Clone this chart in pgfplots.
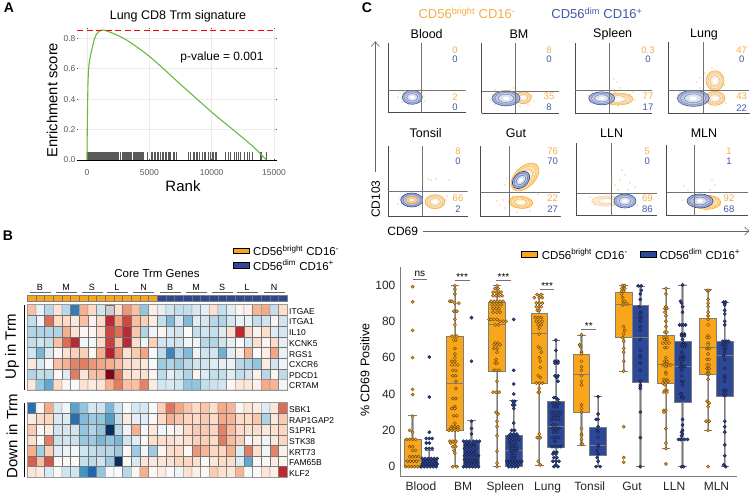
\documentclass[border=0pt]{standalone}
\usepackage{fontspec}
\setmainfont{Liberation Sans}
\usepackage{pgfplots}
\pgfplotsset{compat=1.18}
\usepgfplotslibrary{statistics}

\definecolor{orgbox}{RGB}{250,166,26}
\definecolor{blubox}{RGB}{46,72,152}
\definecolor{orgtxt}{RGB}{245,172,70}
\definecolor{orgpale}{RGB}{250,208,155}
\definecolor{blutxt}{RGB}{62,88,168}
\definecolor{gsea}{RGB}{105,185,65}
\definecolor{boxedge}{RGB}{125,125,125}

% page coordinates: 1pt = 1 reference pixel, y goes down from the top
\newcommand\T[4]{\node[inner sep=0pt,font=\fontsize{#3}{#3}\selectfont] at (#1 pt,-#2 pt) {#4};}
\newcommand\TL[4]{\node[inner sep=0pt,anchor=west,font=\fontsize{#3}{#3}\selectfont] at (#1 pt,-#2 pt) {#4};}
\newcommand\TR[4]{\node[inner sep=0pt,rotate=90,font=\fontsize{#3}{#3}\selectfont] at (#1 pt,-#2 pt) {#4};}
\newcommand\bright{CD56\textsuperscript{bright} CD16\textsuperscript{-}}
\newcommand\dimm{CD56\textsuperscript{dim} CD16\textsuperscript{+}}

% heat map block, scale -5..5
\pgfplotsset{heat/.style={hide axis,scale only axis,anchor=south west,width=260pt,
  xmin=-0.5,xmax=29.5,y dir=reverse,enlargelimits=false,clip=false,
  point meta min=-5,point meta max=5,
  colormap={rdbu}{rgb255=(5,48,97) rgb255=(33,102,172) rgb255=(67,147,195) rgb255=(146,197,222)
    rgb255=(209,229,240) rgb255=(250,250,250) rgb255=(253,219,199) rgb255=(244,165,130)
    rgb255=(214,96,77) rgb255=(190,40,50) rgb255=(125,5,30)}}}
\newcommand\heatplot[1]{\addplot[matrix plot*,mesh/cols=30,point meta=explicit,draw=black!55,line width=.3pt]
  table[header=false,row sep=\\,x expr={\coordindex-30*floor((\coordindex+0.5)/30)},y expr={floor((\coordindex+0.5)/30)},meta index=0] {#1};}

% flow panel: left right top bottom vgate hgate content
\newcommand\flow[7]{%
  \pgfmathsetmacro\fw{#2-#1}\pgfmathsetmacro\fh{#4-#3}
  \begin{axis}[scale only axis,anchor=south west,at={(#1 pt,-#4 pt)},width=\fw pt,height=\fh pt,
    xmin=#1,xmax=#2,ymin=-#4,ymax=-#3,axis x line=bottom,axis y line=left,
    axis line style={-,black!70,line width=.5pt},xticklabel=\empty,yticklabel=\empty,
    xtick distance=7,ytick distance=7,major tick length=1pt,tick style={black!60,line width=.3pt}]
  #7
  \addplot[black!55,line width=.9pt] coordinates {(#5,-#4)(#5,-#3)};
  \addplot[black!55,line width=.9pt] coordinates {(#1,-#6)(#2,-#6)};
  \end{axis}}
% contour blob: colour cx cy rx ry angle
\newcommand\blob[6]{%
  \draw[#1,fill=#1!45,line width=.6pt,rotate around={#6:(axis cs:#2,#3)}] (axis cs:#2,#3) ellipse [x radius=#4pt,y radius=#5pt];
  \draw[#1!80,fill=#1!32,line width=.3pt,rotate around={#6:(axis cs:#2,#3)}] (axis cs:#2,#3) ellipse [x radius=.78*#4pt,y radius=.78*#5pt];
  \draw[#1!75!gray,fill=#1!18,line width=.3pt,rotate around={#6:(axis cs:#2,#3)}] (axis cs:#2,#3) ellipse [x radius=.55*#4pt,y radius=.55*#5pt];
  \fill[white,rotate around={#6:(axis cs:#2,#3)}] (axis cs:#2,#3) ellipse [x radius=.25*#4pt,y radius=.25*#5pt];}
\newcommand\specks[1]{\addplot[only marks,mark=*,mark size=.4pt,orgtxt] coordinates {#1};}

% box plot panel helpers: colour, position, lower whisker, q1, median, q3, upper whisker
\newcommand\bx[7]{%
  \addplot[line width=2.4pt,black!30] coordinates {(#2,#3)(#2,#7)};
  \addplot[boxplot prepared={draw direction=y,draw position=#2,lower whisker=#3,lower quartile=#4,median=#5,
    upper quartile=#6,upper whisker=#7,box extend=.395,whisker extend=.2},
    draw=boxedge,fill=#1,line width=.7pt] coordinates {};}
% swarm: colour, centre, rows of "offset in px, value"
\newcommand\swarm[3]{\addplot[only marks,mark=*,mark size=1.6pt,
    mark options={fill=#1,draw=#1!45!black,line width=.45pt}]
  table[header=false,row sep=\\,x expr={\thisrowno{0}/42.2+#2},y index=1] {#3};}
% bracket: x from, x to, y of the line, x of the text, y of the text, text
\newcommand\sig[6]{%
  \addplot[black!55,line width=.6pt] coordinates {(#1,#3)(#2,#3)};
  \node[inner sep=0pt,font=\fontsize{10}{10}\selectfont] at (axis cs:#4,#5) {#6};}

\begin{document}
\begin{tikzpicture}
\useasboundingbox (0pt,0pt) rectangle (750pt,-495pt);

%% ---------- A ----------
\begin{axis}[scale only axis,anchor=south west,at={(77pt,-160pt)},width=199.5pt,height=132.3pt,
  xmin=-800,xmax=15200,ymin=0,ymax=0.87,clip=false,
  axis line style={draw=none},grid=major,grid style={black!8,line width=.8pt},
  xtick={0,5000,10000,15000},ytick={0,0.2,0.4,0.6,0.8},
  major tick length=1pt,tick style={black!70,line width=.6pt},
  scaled x ticks=false,
  /pgf/number format/assume math mode=true,
  /pgf/number format/set thousands separator={},
  tick label style={font=\fontsize{8.5}{8.5}\selectfont,text=black!65},
  yticklabel style={/pgf/number format/fixed,/pgf/number format/fixed zerofill,/pgf/number format/precision=1,xshift=2pt},
  xticklabel shift=6pt]
\addplot[ycomb,black,line width=.5pt,opacity=.65,mark=none] coordinates {
 (10,.05)(30,.05)(50,.05)(70,.05)(90,.05)(110,.05)(130,.05)(150,.05)(170,.05)(190,.05)(210,.05)(230,.05)(250,.05)(275,.05)
 (300,.05)(325,.05)(350,.05)(375,.05)(400,.05)(425,.05)(450,.05)(480,.05)(510,.05)(540,.05)(570,.05)(600,.05)(630,.05)
 (660,.05)(690,.05)(720,.05)(750,.05)(790,.05)(830,.05)(870,.05)(910,.05)(950,.05)(1000,.05)(1050,.05)(1100,.05)(1150,.05)
 (1210,.05)(1260,.05)(1320,.05)(1400,.05)(1450,.05)(1520,.05)(1590,.05)(1640,.05)(1720,.05)(1790,.05)(1850,.05)(1910,.05)
 (1960,.05)(2040,.05)(2110,.05)(2180,.05)(2240,.05)(2280,.05)(2350,.05)(2430,.05)(2520,.05)(2640,.05)(2800,.05)(2880,.05)
 (2960,.05)(3050,.05)(3130,.05)(3210,.05)(3330,.05)(3420,.05)(3500,.05)(3590,.05)(3700,.05)(3790,.05)(3900,.05)(3960,.05)
 (4050,.05)(4120,.05)(4190,.05)(4260,.05)(4330,.05)(4420,.05)(4500,.05)(4800,.05)(5150,.05)(5230,.05)(5400,.05)(5510,.05)
 (5600,.05)(5720,.05)(5900,.05)(6000,.05)(6100,.05)(6250,.05)(6350,.05)(6500,.05)(6600,.05)(6680,.05)(6900,.05)(7000,.05)
 (7150,.05)(8100,.05)(8250,.05)(8500,.05)(8600,.05)(8750,.05)(8870,.05)(9000,.05)(9250,.05)(9400,.05)(9480,.05)(9700,.05)
 (9900,.05)(10050,.05)(10150,.05)(10300,.05)(10400,.05)(11100,.05)(11300,.05)(11500,.05)(11800,.05)(11950,.05)(12100,.05)
 (12300,.05)(12600,.05)(12850,.05)(13000,.05)(13250,.05)(13900,.05)(14000,.05)(14350,.05)};
\addplot[black,line width=.9pt] coordinates {(-800,0)(15200,0)};
\addplot[gsea,line width=1.1pt,smooth] coordinates {
 (0,0)(27,.22)(80,.5)(160,.625)(350,.71)(615,.80)(880,.84)(1280,.855)(2085,.833)(3155,.79)(5030,.68)
 (7700,.483)(10100,.308)(11700,.2)(13300,.09)(14380,0)};
\addplot[red,line width=1pt,dash pattern=on 6pt off 3.5pt] coordinates {(-800,.85)(15200,.85)};
\end{axis}
\T{178}{16}{12.5}{Lung CD8 Trm signature}
\T{222}{57}{12}{p-value = 0.001}
\TR{52}{100}{14.7}{Enrichment score}
\T{183}{186}{15}{Rank}
\T{9}{8}{14}{\bfseries A}
\T{8}{236}{14}{\bfseries B}
\T{367}{8}{14}{\bfseries C}

%% ---------- B ----------
\begin{axis}[heat,at={(27.3pt,-390pt)},height=85.3pt,ymin=-0.5,ymax=7.5]
\heatplot{
1.5\\-0.4\\-1.4\\0.7\\-1.4\\-3.5\\1.8\\1\\-1\\0\\0.8\\2.2\\1.5\\-2\\0.4\\-0.5\\-1\\-1.2\\-1.2\\-0.8\\-0.5\\0.8\\-1.2\\-0.6\\0.2\\0.3\\1.7\\1.9\\-1.2\\0.9\\
-1.2\\-0.3\\2.8\\1\\1\\0.6\\1.5\\0.2\\1\\4\\2\\3.4\\1.5\\1.2\\0.5\\-1.2\\-2.2\\-0.8\\-2.2\\-0.6\\-0.9\\-1.4\\-1.5\\-0.9\\-0.4\\-0.4\\-1.2\\-1\\0.2\\-1\\
-1.5\\-1.5\\-1.5\\-1.5\\1.8\\0.8\\0.2\\0.2\\1\\3.4\\2.8\\4\\1.4\\-1.5\\-0.3\\0.2\\-0.8\\-1\\0\\-1.2\\-1\\-1.2\\-0.7\\0.8\\4\\1\\0.3\\0.9\\-0.7\\-0.9\\
-1.2\\-1\\-1.2\\1.5\\2.8\\4\\-0.3\\-0.2\\1\\3.6\\1.5\\4\\0.9\\-0.3\\1.2\\-1\\-1\\-1\\-0.3\\-0.3\\-1.4\\-1.5\\-1\\-0.5\\0\\-0.8\\0.8\\0.2\\1\\-0.5\\
-1\\-2.3\\-0.8\\0.2\\0.8\\1.2\\1.2\\0.1\\1.8\\4.2\\2.3\\0.8\\1.3\\2\\-0.1\\-1.3\\-3.3\\-1.5\\-2.2\\-0.3\\-1\\-1\\-2.4\\-0.6\\0.4\\1.8\\0\\0.4\\2\\-0.4\\
0.6\\-0.8\\0.1\\1.5\\1.8\\2.5\\2.6\\2.2\\2\\1.8\\1.5\\0.9\\0.8\\0.6\\-0.1\\-1.8\\-1.5\\-1.8\\-1.4\\-1\\-1\\-0.7\\-0.5\\-0.4\\-1.4\\-1.6\\-2\\0.5\\-1\\-0.3\\
-1.5\\-1.2\\-1.3\\0.1\\-0.7\\2.6\\0.7\\1.5\\1.6\\5\\2.6\\0.8\\0.7\\0.8\\0.2\\-1.3\\-0.5\\-1\\-1.5\\0.2\\-0.7\\-1.2\\-1.2\\-0.6\\-1.2\\-1\\0.3\\-1.4\\0.2\\-1.3\\
0.6\\-1.9\\-2.6\\1\\0.2\\0\\0.8\\0.5\\0.7\\1.8\\2.6\\1.5\\1.5\\2.5\\0.5\\-1\\-0.8\\-1\\-2\\-2\\-1.2\\-1.1\\-1\\0.1\\0.6\\0.7\\0.3\\1.9\\1.7\\-0.2\\
}
\fill[black!20,draw=black!55,line width=.3pt] (axis cs:8.5,-0.5) rectangle (axis cs:9.5,0.5);
\draw[black!40,line width=.7pt] (axis cs:-0.5,-0.5) rectangle (axis cs:29.5,7.5);
\end{axis}
\begin{axis}[heat,at={(27.3pt,-477.3pt)},height=74.6pt,ymin=-0.5,ymax=6.5]
\heatplot{
-3.8\\0.2\\1.9\\-0.8\\-0.2\\-2.7\\-2\\-0.9\\-1\\-2.3\\-1\\-0.1\\-0.9\\-0.9\\-0.1\\1.2\\2.7\\2\\1.4\\1\\1.4\\0.9\\1.9\\1.7\\0.2\\0.7\\0.5\\-0.7\\0.6\\2.8\\
0.5\\1\\1.1\\-0.8\\-0.7\\-3.8\\-2.2\\-1.8\\-2\\-2.8\\-1.2\\0.5\\-0.5\\-0.6\\0.1\\1\\1.8\\1.4\\1.1\\1\\1.3\\1\\1.9\\1.7\\1\\1\\1.4\\-1.6\\0.6\\1.3\\
1.3\\0.1\\0.5\\-1\\-0.9\\-1\\-2\\-1.5\\-2\\-5\\-1.4\\-0.3\\1.8\\-0.2\\0.6\\-0.2\\0.1\\0.4\\1\\1.3\\1.3\\1.1\\2.5\\1.6\\1\\0.8\\0.9\\0.6\\0.8\\1.1\\
0.8\\0.1\\2.6\\-1.1\\-1\\-1.1\\-1.9\\-1.8\\-2.3\\-2\\-2.3\\-1\\-0.6\\0.1\\0.9\\0.9\\0.9\\0.6\\0.8\\1.2\\1.2\\1\\2.6\\1.6\\1.2\\0.1\\0.4\\-0.3\\0.6\\1.1\\
1.8\\-1.7\\1.2\\-0.6\\-0.4\\-0.2\\-1\\-1.2\\-1.4\\-1.4\\-1.8\\0.1\\-1.8\\-0.2\\-1.8\\0.2\\1\\1\\0.1\\2.2\\1.7\\1.1\\1.1\\1.8\\-0.7\\2.6\\0.9\\-0.3\\2.5\\0.3\\
3\\1.5\\3.2\\0.1\\0.1\\0\\-1.2\\-1.3\\-1\\-1.8\\-5\\0.1\\-0.8\\0.7\\0.6\\0.7\\0.8\\1.1\\1.1\\0.9\\0.1\\0.7\\1\\0.9\\-0.7\\-2.6\\0.1\\0.1\\0.5\\0.2\\
0.7\\0.5\\-0.8\\0.1\\-1\\-1\\-3\\-4\\-2\\-0.1\\0\\-1.4\\0.1\\1.8\\0.1\\0.5\\-0.1\\-0.3\\0.8\\0.3\\0.1\\1.3\\0.8\\0.6\\1.7\\-0.1\\0\\0.7\\0.4\\4\\
}
\draw[black!40,line width=.7pt] (axis cs:-0.5,-0.5) rectangle (axis cs:29.5,6.5);
\end{axis}
\begin{scope}[x=1pt,y=1pt]
% column header strip
\fill[orgbox] (27.3,-295.3) rectangle (157.3,-300.7);
\fill[blubox] (157.3,-295.3) rectangle (287.3,-300.7);
\foreach \i in {0,...,30} \draw[black!55,line width=.3pt] (27.3+\i*8.667,-295.3) -- (27.3+\i*8.667,-300.7);
\draw[black!50,line width=.4pt] (27.3,-295.3) rectangle (287.3,-300.7);
\foreach \x/\t in {40/B,66/M,92/S,117/L,143.5/N,170/B,196/M,222/S,247/L,274/N}{
  \T{\x}{287.7}{9}{\t}
  \draw[black!60,line width=.5pt] (\x-10.5,-292.3) -- (\x+10.5,-292.3);}
\T{157}{274}{11.5}{Core Trm Genes}
\draw[black,fill=orgbox,line width=.9pt] (233,-248) rectangle (249,-253.5);
\draw[black,fill=blubox,line width=.9pt] (233,-262.5) rectangle (249,-268);
\TL{253}{250.5}{11.5}{\bright}
\TL{253}{265}{11.5}{\dimm}
\foreach \y/\g in {311.7/ITGAE,321.7/ITGA1,332.7/IL10,343.3/KCNK5,354.7/RGS1,365/CXCR6,375.7/PDCD1,386/CRTAM,
  410/SBK1,420.3/RAP1GAP2,431/S1PR1,441.7/STK38,452.3/KRT73,463/FAM65B,473.7/KLF2}{\TL{289}{\y}{8.5}{\g}}
\draw[black,line width=.8pt] (24,-305) -- (24,-390);
\draw[black,line width=.8pt] (24,-403) -- (24,-477);
\TR{12}{347}{15}{Up in Trm}
\TR{12}{436}{15}{Down in Trm}
\end{scope}

%% ---------- C, flow ----------
\T{467}{13}{13}{\textcolor{orgtxt}{\bright}}
\T{597}{13}{13}{\textcolor{blutxt}{\dimm}}
\foreach \x/\t in {426.7/Blood,519/BM,612.7/Spleen,704/Lung}{\T{\x}{34}{12.5}{\t}}
\foreach \x/\t in {425.7/Tonsil,516/Gut,611.7/LLN,704/MLN}{\T{\x}{133}{12.5}{\t}}

\flow{388}{465.7}{42.7}{112.7}{421.7}{90.7}{
  \specks{(400,-93)(398,-97)(402,-102)(424,-96)(425,-101)(403,-92)(419,-90)(409,-105)}
  \blob{blutxt}{412.3}{-97.3}{10}{7}{0}}
\flow{481.7}{559}{43.3}{113.3}{515}{91.3}{
  \specks{(493,-95)(490,-100)(495,-104)(500,-92)(510,-90)(514,-88)(532,-96)(534,-101)(528,-105)(495,-90)(505,-106)(520,-106)}
  \blob{orgtxt}{523.3}{-97.7}{8}{6}{0}
  \blob{blutxt}{506}{-98.3}{14}{7.5}{0}}
\flow{575}{652.3}{43}{113}{609}{90.7}{
  \specks{(588,-96)(592,-92)(590,-103)(630,-95)(635,-100)(620,-88)(617,-82)(615,-92)(633,-92)(618,-106)(614,-79)}
  \blob{orgtxt}{618}{-99}{15}{6}{0}
  \blob{blutxt}{601.7}{-98.3}{13}{6.5}{0}}
\flow{668.3}{749}{42}{113}{703.3}{90.7}{
  \specks{(680,-92)(677,-98)(682,-104)(700,-88)(705,-73)(697,-82)(712,-68)(725,-85)(724,-98)(692,-106)(726,-103)(700,-78)}
  \blob{orgtxt}{715}{-80.7}{9}{10}{0}
  \blob{orgtxt}{715}{-98.3}{10}{7}{0}
  \blob{blutxt}{693.3}{-98.3}{16}{8}{0}}
\flow{388}{467.7}{145.7}{216.3}{422.3}{191.7}{
  \specks{(403,-191)(400,-198)(428,-179)(431,-180)(436,-179)(449,-180)(445,-200)(447,-196)(423,-178)(442,-204)(398,-204)}
  \blob{orgtxt}{435}{-201.7}{10}{7}{0}
  \blob{blubox}{411.7}{-200}{11}{7}{0}
  \blob{orgtxt}{411.7}{-200}{6}{3.5}{0}}
\flow{480.3}{560}{146}{216}{509.7}{192.3}{
  \specks{(507,-178)(505,-185)(503,-200)(500,-205)(513,-196)(510,-210)(517,-212)(538,-194)(505,-208)(530,-211)(497,-201)}
  \blob{orgbox}{520.7}{-202.3}{12}{6}{-5}
  \blob{orgbox}{525}{-177}{17}{10}{45}
  \blob{blubox}{521}{-180}{10}{7}{45}}
\flow{576.7}{657.3}{143.3}{215.7}{611.3}{193.3}{
  \specks{(590,-197)(595,-205)(615,-185)(620,-180)(625,-175)(630,-183)(618,-190)(628,-190)(612,-178)(635,-187)(637,-205)(622,-170)}
  \blob{orgpale}{606.7}{-201}{15}{5}{0}
  \blob{blutxt}{625}{-201}{11}{7}{0}}
\flow{666.7}{748.3}{145}{215.7}{694.7}{192.7}{
  \specks{(683,-200)(688,-190)(684,-186)(715,-185)(710,-190)(712,-180)(690,-205)(720,-205)}
  \blob{orgbox}{706.7}{-202.3}{14}{7}{0}
  \blob{blubox}{700}{-201}{13}{7}{0}}

% orange and blue percentages of each quadrant
\foreach \x/\a/\b/\c/\d in {455/0/0/2/0,549/8/0/35/8,648/0.3/0/77/17,741.7/47/0/43/22}{
  \T{\x}{50}{9.5}{\textcolor{orgtxt}{\a}}
  \T{\x}{59.3}{9.5}{\textcolor{blutxt}{\b}}
  \T{\x}{96.7}{9.5}{\textcolor{orgtxt}{\c}}
  \T{\x}{107.7}{9.5}{\textcolor{blutxt}{\d}}}
\foreach \x/\a/\b/\c/\d in {458/8/0/66/2,552.7/76/70/22/27,647.3/5/0/69/86,729/1/1/92/68}{
  \T{\x}{151.7}{9.5}{\textcolor{orgtxt}{\a}}
  \T{\x}{161}{9.5}{\textcolor{blutxt}{\b}}
  \T{\x}{198.3}{9.5}{\textcolor{orgtxt}{\c}}
  \T{\x}{209.3}{9.5}{\textcolor{blutxt}{\d}}}
\begin{scope}[x=1pt,y=1pt]
\draw[black!60,line width=.6pt] (375.3,-172) -- (375.3,-42);
\draw[black!60,line width=.6pt] (371.3,-46.5) -- (375.3,-41.7) -- (379.3,-46.5);
\draw[black!60,line width=.6pt] (423,-231) -- (749,-231);
\draw[black!60,line width=.6pt] (744.5,-227) -- (749,-231) -- (744.5,-235);
%% ---------- C, box plot legend ----------
\draw[black,fill=orgbox,line width=.8pt] (521.7,-251.7) rectangle (537.7,-257.7);
\draw[black,fill=blubox,line width=.8pt] (640,-251.7) rectangle (656,-257.7);
\end{scope}
\TR{375.7}{199}{12}{CD103}
\T{402.7}{231}{12}{CD69}
\TL{541.7}{254}{11.5}{\bright}
\TL{659.3}{254}{11.5}{\dimm}

%% ---------- C, box plots ----------
\begin{axis}[scale only axis,anchor=south west,at={(400.7pt,-476.7pt)},width=336pt,height=210pt,
  xmin=0.52,xmax=8.48,ymin=-5.5,ymax=110,clip=false,
  axis x line=bottom,axis y line=left,
  axis line style={-,boxedge,line width=.9pt},
  xtick={1,...,8},xticklabels={Blood,BM,Spleen,Lung,Tonsil,Gut,LLN,MLN},
  ytick={0,20,...,100},
  major tick length=1.5pt,tick style={boxedge,line width=.6pt},
  /pgf/number format/assume math mode=true,
  tick label style={font=\fontsize{12}{12}\selectfont,text=black!85},
  xticklabel style={yshift=-1pt},
  yticklabel style={xshift=-1pt}]
\bx{orgbox}{0.803}{0}{0}{3.5}{15}{28}
\bx{blubox}{1.197}{0}{0}{1.5}{4.5}{9}
\bx{orgbox}{1.803}{0}{20}{46}{71.8}{99.8}
\bx{blubox}{2.197}{0}{0}{5.5}{13.7}{25.3}
\bx{orgbox}{2.803}{0}{52.2}{78.4}{90.5}{99.8}
\bx{blubox}{3.197}{0}{0}{9}{17.2}{36.3}
\bx{orgbox}{3.803}{1}{45.8}{73.4}{84.4}{94.7}
\bx{blubox}{4.197}{0}{10.8}{22}{36}{69.6}
\bx{orgbox}{4.803}{11.9}{30}{50.7}{61.9}{72.5}
\bx{blubox}{5.197}{0}{6}{11.5}{21.6}{38.5}
\bx{orgbox}{5.803}{52.6}{71}{89.4}{95.8}{99.8}
\bx{blubox}{6.197}{0}{46.3}{71}{88.6}{99.3}
\bx{orgbox}{6.803}{9.9}{45.6}{56.2}{72.2}{98}
\bx{blubox}{7.197}{0}{35.3}{55}{68.7}{100}
\bx{orgbox}{7.803}{20}{50.7}{65.6}{81.5}{97.4}
\bx{blubox}{8.197}{0}{38.8}{61}{68.7}{90.5}
% Blood
\swarm{orgbox}{0.803}{0 99\\0 90.7\\0 75\\0 60\\0 42.5\\0 39.7\\0 27.8\\-3 20\\0 19\\-6 15\\-3 15\\0 15\\3 15\\-3 11\\0 11\\0 9\\3 9\\-3 5.5\\0 5.5\\3 5.5\\6 5.5\\-5 3\\-2 3\\1 3\\4 3\\-7 0\\-4 0\\-1 0\\2 0\\5 0\\8 0\\}
\swarm{blubox}{1.197}{0 60.3\\0 38.3\\0 19\\-3 15.5\\0 15.5\\3 15.5\\-3 13\\0 13\\-3 10\\0 10\\3 10\\-7 4.5\\-4 4.5\\-1 4.5\\2 4.5\\5 4.5\\8 4.5\\-6 3\\-3 3\\0 3\\3 3\\6 3\\-7 1.5\\-4 1.5\\-1 1.5\\2 1.5\\5 1.5\\8 1.5\\-8 0\\-5 0\\-2 0\\1 0\\4 0\\7 0\\}
% BM
\swarm{orgbox}{1.803}{0 99.5\\0 97.6\\0 95\\-5 91\\-3 91\\0 90\\4 90\\-1 85.5\\2 85.5\\0 81\\0 78\\-3 71.8\\0 71.8\\2 71.8\\-1 69.6\\1 69.6\\0 65\\0 62\\0 60\\-3 58\\0 58\\-3 56\\0 56\\3 56\\-2 53\\1 53\\-2 50\\1 50\\1 47\\1 43\\-2 37.5\\1 37.5\\0 33\\-3 32\\0 32\\-1 28\\2 28\\0 24\\-3 22\\0 22\\3 22\\-4 21\\-1 21\\3 21\\-6 20\\-3 20\\0 20\\3 20\\-5 14\\-2 14\\1 14\\-4 13\\0 13\\-2 11\\1 11\\-1 9\\0 7.5\\-2 0\\2 0\\}
\swarm{blubox}{2.197}{0 82\\0 58\\0 25\\0 21\\0 18\\-8 14\\-5 14\\-2 14\\2 14\\5 14\\8 14\\-6 12\\-3 12\\0 12\\3 12\\-7 10\\-3 10\\0 10\\4 10\\-6 8\\-3 8\\0 8\\3 8\\-7 6\\-4 6\\-1 6\\2 6\\5 6\\7 6\\-7 4\\-4 4\\-1 4\\2 4\\5 4\\-6 2\\-3 2\\0 2\\3 2\\6 2\\-8 0\\-5 0\\-2 0\\1 0\\4 0\\7 0\\}
% Spleen
\swarm{orgbox}{2.803}{0 99.5\\-2 98\\1 98\\-4 96\\-1 96\\2 96\\4 96\\-4 94\\-1 94\\2 94\\5 94\\-6 91\\-3 91\\0 91\\3 91\\6 91\\-5 89\\-2 89\\1 89\\4 89\\-4 87\\-1 87\\2 87\\-4 85\\0 85\\3 85\\-8 81\\-6 81\\-3 81\\0 81\\3 80\\6 80\\9 80\\-2 78\\1 78\\-2 68\\1 68\\-3 67\\0 67\\3 67\\-3 65\\0 65\\0 63\\-1 59\\-2 57\\0 57\\-3 53\\-1 53\\2 53\\0 47\\-4 41\\-1 41\\2 41\\-1 30\\1 29\\0 25\\0 22\\0 17\\0 8.5\\0 2\\0 0\\}
\swarm{blubox}{3.197}{0 81\\0 53\\0 45.5\\0 40\\-1 36\\1 36\\-1 34\\1 34\\0 32\\0 24\\-2 20\\1 20\\-3 18\\0 18\\3 18\\-5 17\\-2 17\\1 17\\4 17\\-4 15\\-1 15\\2 15\\5 15\\-4 13\\-1 13\\2 13\\-3 11\\0 11\\3 11\\-3 9\\0 9\\3 9\\-2 7\\1 7\\-2 5\\1 5\\-7 3\\-4 3\\-1 3\\2 3\\5 3\\8 3\\-6 2\\-3 2\\0 2\\3 2\\6 2\\-5 0\\-2 0\\1 0\\4 0\\}
% Lung
\swarm{orgbox}{3.803}{-2 94.7\\2 94.7\\-5 93\\0 93\\3 93\\-3 90\\0 90\\3 90\\-3 88\\0 88\\2 88\\-2 86\\0 86\\-4 82\\-1 82\\2 82\\-3 80\\0 80\\3 80\\-1 78\\2 78\\0 76\\0 73\\-1 66\\1 65\\2 63\\0 60\\1 58\\1 54.5\\-1 50\\1 49\\-3 46\\0 46\\3 46\\0 43\\-1 41\\0 41\\0 18\\-2 16\\1 16\\-1 3\\1 1\\}
\swarm{blubox}{4.197}{0 69.6\\0 64\\-1 58\\2 58\\-1 57\\2 57\\-1 50\\2 50\\1 49\\2 47\\-2 38\\0 38\\2 37\\-3 35\\0 35\\3 35\\-2 33\\1 33\\-4 30\\-1 30\\2 30\\5 30\\-3 28\\0 28\\3 28\\-4 26\\-1 26\\3 26\\-3 23\\0 23\\-3 21\\0 21\\3 21\\-2 19\\1 19\\-3 16\\0 16\\3 16\\-1 14\\-4 11\\-1 11\\2 11\\5 11\\-2 8\\1 8\\-3 7\\0 7\\-2 5\\1 5\\-3 3\\0 3\\3 3\\0 1\\-2 0\\2 0\\}
% Tonsil
\swarm{orgbox}{4.803}{0 72.5\\-2 67\\-1 66\\0 63\\0 62\\0 58\\0 55\\0 53\\0 50\\0 47\\0 45\\0 34\\0 32\\0 30\\0 21\\0 18\\0 17\\0 15\\0 12.5\\1 12.5\\}
\swarm{blubox}{5.197}{0 38.5\\0 29\\-2 26\\0 26\\0 22\\-1 20\\0 19\\0 16\\0 12\\0 11\\-1 9\\0 7\\-1 5\\0 3\\-2 0\\2 0\\}
% Gut
\swarm{orgbox}{5.803}{-1 99.7\\1 99.7\\-2 98\\1 98\\-2 96.5\\0 96.5\\-2 95\\-1 93\\-1 91\\1 91\\-1 89\\2 89.5\\4 89.5\\0 77\\1 75\\0 73\\-1 71\\0 69\\0 65\\0 63\\0 58\\0 52.6\\0 22\\0 5\\0 2.5\\}
\swarm{blubox}{6.197}{-2 99.5\\1 99.5\\1 97\\0 95\\0 92\\-1 88\\0 85\\0 84\\-1 82\\1 82\\0 80\\0 77\\0 75\\0 70\\0 64\\0 61\\0 60\\0 57\\0 53\\0 47\\0 45\\0 44\\0 43\\0 30\\0 16\\0 0\\}
% LLN
\swarm{orgbox}{6.803}{0 98\\0 95\\0 88\\-1 87\\1 87\\-1 85\\0 83\\0 80\\0 77\\-1 74\\1 74\\-2 71\\1 71\\-1 70\\1 70\\-3 68\\0 68\\3 68\\-1 65.5\\1 65.5\\0 60\\-1 58\\1 58\\-3 56\\-1 56\\1 56\\3 56\\5 56\\0 55\\0 52\\0 51\\-2 48\\1 48\\-1 47\\2 47\\-3 46\\0 46\\-1 45\\-1 42\\1 42\\-2 41\\1 41\\-2 31\\0 31\\-2 30\\0 21\\0 13\\0 10\\0 1.5\\}
\swarm{blubox}{7.197}{0 100\\-2 91\\-1 90\\0 88\\0 85\\-3 78\\-1 78\\1 78\\3 78\\-1 73\\2 73\\-1 72\\2 72\\0 70\\1 68\\-1 67\\1 67\\3 67\\0 66\\2 66\\-1 63\\1 61\\-2 60\\1 60\\-2 59\\1 59\\-1 57\\-2 55\\0 55\\2 55\\-1 53\\-1 50\\-1 47\\1 47\\0 45\\-1 40\\-2 40\\-1 38\\1 38\\0 26\\0 23\\0 20\\-1 19\\0 18\\-1 17\\-2 15\\-4 15\\-1 15\\2 15\\5 15\\-1 0\\1 0\\}
% MLN
\swarm{orgbox}{7.803}{-1 97\\1 97\\0 92\\0 90\\0 88\\0 85\\0 83\\0 81\\0 78\\0 72\\-1 71\\1 71\\0 68\\0 67\\-1 65\\1 65\\0 62\\-1 59\\1 59\\-1 56\\1 56\\-1 54\\1 54\\0 52\\-1 51\\1 51\\0 48\\-1 36\\1 35\\0 33\\-2 25\\1 25\\0 20\\0 0\\}
\swarm{blubox}{8.197}{-1 90.5\\1 90.5\\0 89\\0 86\\0 84\\0 80\\0 78\\-2 69\\0 69\\2 69\\4 69\\-2 67\\1 67\\-1 65\\1 65\\0 63\\-1 61\\0 59\\0 54\\0 50\\0 49\\0 47\\-1 42\\1 42\\-1 40\\1 40\\0 39\\0 25\\0 22\\0 19\\0 12\\0 6\\-1 1\\1 0\\}
% significance brackets
\sig{0.8}{1.15}{102.9}{0.975}{105.8}{ns}
\sig{1.8}{2.15}{102.6}{1.975}{104.5}{***}
\sig{2.78}{3.13}{102.6}{2.955}{104.5}{***}
\sig{3.82}{4.16}{97.6}{3.99}{99.5}{***}
\sig{4.8}{5.15}{75.5}{4.975}{77.4}{**}
\end{axis}
\TR{365}{370}{12.5}{\% CD69 Positive}
\end{tikzpicture}
\end{document}
